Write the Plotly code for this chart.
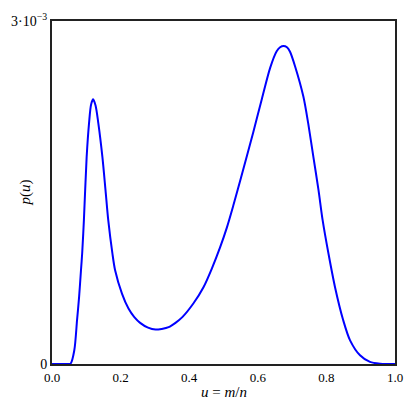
import numpy as np
import plotly.graph_objects as go

# u = m/n values and p(u) values (in units of 1e-3)
u_vals = [0.0, 0.04, 0.054, 0.065, 0.073, 0.079, 0.0845, 0.088, 0.093, 0.101, 0.108, 0.114,
          0.120, 0.127, 0.135, 0.147, 0.156, 0.164, 0.176, 0.184, 0.204, 0.223, 0.240,
          0.257, 0.280, 0.302, 0.320, 0.340, 0.360, 0.380, 0.412, 0.442, 0.466, 0.490,
          0.510, 0.529, 0.551, 0.587, 0.612, 0.636, 0.655, 0.665, 0.675, 0.685, 0.694,
          0.709, 0.733, 0.747, 0.762, 0.777, 0.789, 0.806, 0.825, 0.849, 0.869, 0.898,
          0.927, 0.957, 1.0]
p_milli = [0.0, 0.0, 0.003, 0.120, 0.383, 0.587, 0.820, 0.969, 1.258, 1.809, 2.107, 2.27,
           2.315, 2.26, 2.107, 1.809, 1.521, 1.258, 0.969, 0.820, 0.616, 0.485, 0.41,
           0.36, 0.318, 0.301, 0.307, 0.322, 0.36, 0.41, 0.529, 0.674, 0.835, 1.02,
           1.195, 1.39, 1.63, 2.03, 2.32, 2.59, 2.735, 2.77, 2.781, 2.77, 2.731,
           2.600, 2.337, 2.104, 1.812, 1.521, 1.258, 0.966, 0.674, 0.383, 0.207, 0.076,
           0.018, 0.003, 0.0]

y_tickvals = [0.0, 3e-3]
y_ticktext = ["0", "3·10<sup>−3</sup>"]
x_tickvals = [0.0, 0.2, 0.4, 0.6, 0.8, 1.0]
x_ticktext = ["0.0", "0.2", "0.4", "0.6", "0.8", "1.0"]
x_title = "<i>u</i> = <i>m</i>/<i>n</i>"
y_title = "<i>p</i>(<i>u</i>)"

p_vals = np.array(p_milli) * 1e-3

fig = go.Figure()
fig.add_trace(go.Scatter(
    x=u_vals, y=p_vals, mode="lines",
    line=dict(color="#0000ff", width=2, shape="spline", smoothing=0.8),
    hoverinfo="skip",
))

font_family = "Liberation Serif"
fig.update_layout(
    width=416, height=416,
    margin=dict(l=52, r=21, t=21, b=52),
    paper_bgcolor="white", plot_bgcolor="white",
    showlegend=False,
    font=dict(family=font_family, size=13, color="black"),
    xaxis=dict(
        range=[0, 1], tickvals=x_tickvals, ticktext=x_ticktext,
        showgrid=False, zeroline=False, showline=True, linecolor="#222222",
        linewidth=2, mirror=True, ticks="", automargin=False,
        tickfont=dict(family=font_family, size=13, color="black"),
    ),
    yaxis=dict(
        range=[0, 3e-3], tickvals=y_tickvals, ticktext=y_ticktext,
        showgrid=False, zeroline=False, showline=True, linecolor="#222222",
        linewidth=2, mirror=True, ticks="", automargin=False,
        tickfont=dict(family=font_family, size=14, color="black"),
    ),
    annotations=[
        dict(text=x_title, xref="paper", yref="paper", x=0.5, y=-0.083,
             xanchor="center", yanchor="middle", showarrow=False,
             font=dict(family=font_family, size=15, color="black")),
        dict(text=y_title, xref="paper", yref="paper", x=-0.076, y=0.5,
             xanchor="center", yanchor="middle", showarrow=False, textangle=-90,
             font=dict(family=font_family, size=15, color="black")),
    ],
)

fig.write_html("out.html", config={"displayModeBar": False},
               post_script="document.body.style.margin='0';")
